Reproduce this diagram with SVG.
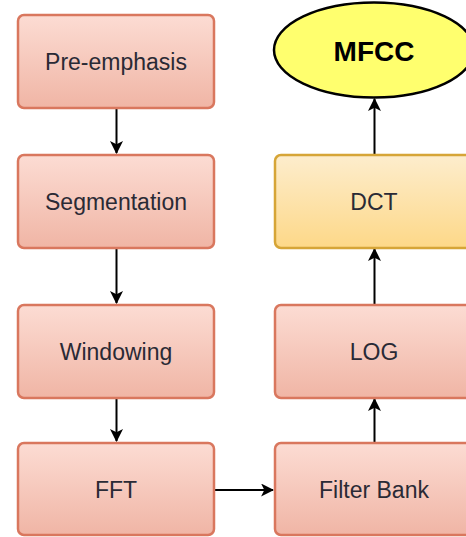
<svg xmlns="http://www.w3.org/2000/svg" width="466" height="537" viewBox="0 0 466 537">
<defs>
<linearGradient id="gRed" x1="0" y1="0" x2="0" y2="1">
<stop offset="0" stop-color="#fcdcd3"/>
<stop offset="1" stop-color="#f0b5a5"/>
</linearGradient>
<linearGradient id="gYel" x1="0" y1="0" x2="0" y2="1">
<stop offset="0" stop-color="#fdedcd"/>
<stop offset="1" stop-color="#fdd888"/>
</linearGradient>
<marker id="arr" viewBox="0 0 12 12" refX="11" refY="6" markerWidth="13" markerHeight="13" markerUnits="userSpaceOnUse" orient="auto">
<path d="M0,0 L12,6 L0,12 L3,6 Z" fill="#000"/>
</marker>
</defs>
<style>
.box{fill:url(#gRed);stroke:#d9775e;stroke-width:2.5}
.ybox{fill:url(#gYel);stroke:#d6a537;stroke-width:2.5}
.lbl{font-family:"Liberation Sans",Arial,sans-serif;font-size:23px;fill:#2a2a35;text-anchor:middle;dominant-baseline:central}
.conn{stroke:#000;stroke-width:2;fill:none;marker-end:url(#arr)}
</style>
<rect width="466" height="537" fill="#fff"/>
<g id="connectors">
<line class="conn" x1="116.5" y1="108" x2="116.5" y2="153"/>
<line class="conn" x1="116.5" y1="248" x2="116.5" y2="303"/>
<line class="conn" x1="116.5" y1="398" x2="116.5" y2="441"/>
<line class="conn" x1="214" y1="490" x2="273" y2="490"/>
<line class="conn" x1="374.5" y1="442" x2="374.5" y2="399"/>
<line class="conn" x1="374.5" y1="304" x2="374.5" y2="249"/>
<line class="conn" x1="374.5" y1="154" x2="374.5" y2="99"/>
</g>
<g id="pre-emphasis">
<rect class="box" x="18" y="15" width="196" height="93" rx="6"/>
<text class="lbl" x="116" y="62">Pre-emphasis</text>
</g>
<g id="segmentation">
<rect class="box" x="18" y="155" width="196" height="93" rx="6"/>
<text class="lbl" x="116" y="202">Segmentation</text>
</g>
<g id="windowing">
<rect class="box" x="18" y="305" width="196" height="93" rx="6"/>
<text class="lbl" x="116" y="352">Windowing</text>
</g>
<g id="fft">
<rect class="box" x="18" y="443" width="196" height="92" rx="6"/>
<text class="lbl" x="116" y="490">FFT</text>
</g>
<g id="filter-bank">
<rect class="box" x="275" y="443" width="200" height="92" rx="6"/>
<text class="lbl" x="374" y="490">Filter Bank</text>
</g>
<g id="log">
<rect class="box" x="275" y="305" width="200" height="93" rx="6"/>
<text class="lbl" x="374" y="352">LOG</text>
</g>
<g id="dct">
<rect class="ybox" x="275" y="155" width="200" height="93" rx="6"/>
<text class="lbl" x="374" y="202">DCT</text>
</g>
<g id="mfcc">
<ellipse cx="374" cy="50" rx="100" ry="47.5" fill="#ffff6e" stroke="#000" stroke-width="2.5"/>
<text class="lbl" x="374" y="51" style="font-weight:bold;font-size:28px;fill:#000">MFCC</text>
</g>
</svg>
